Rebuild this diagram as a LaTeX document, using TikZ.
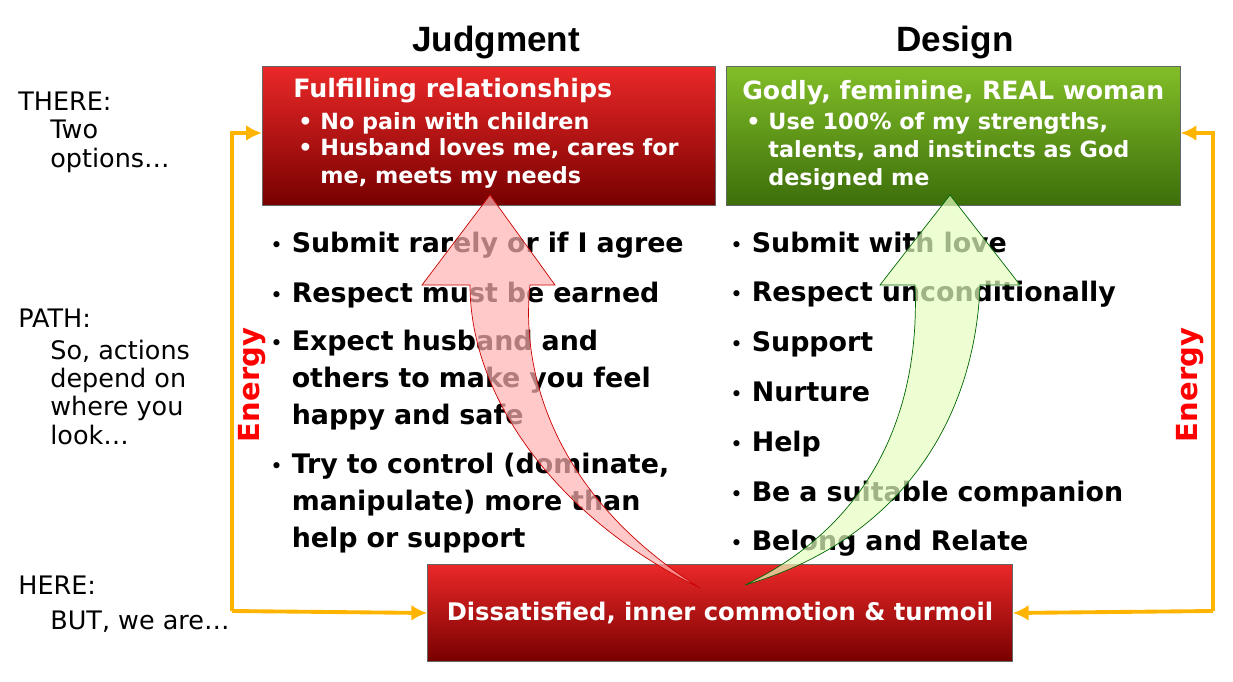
\documentclass[tikz,border=0pt]{standalone}
\usepackage{fontspec}
\setmainfont{DejaVu Sans}
\newfontfamily\titlefont{Liberation Sans}
\usepackage{xcolor}
\definecolor{BoxRedTop}{RGB}{235, 40, 40}
\definecolor{BoxRedBot}{RGB}{120, 0, 0}
\definecolor{BoxGreenTop}{RGB}{130, 190, 40}
\definecolor{BoxGreenBot}{RGB}{60, 110, 10}
\definecolor{EnergyOrange}{RGB}{255, 180, 0}
\usetikzlibrary{arrows.meta,positioning,calc}
\newcommand{\bul}{{\normalfont\fontsize{12}{12}\selectfont\textbullet}\ }
\newcommand{\ind}{\phantom{\bul}}

\begin{document}
\begin{tikzpicture} [ % styles
            x=0.02cm, y=-0.02cm, font=\fontsize{13.5}{16}\selectfont,
            redbox/.style = {rectangle, draw=black!60, top color=BoxRedTop, bottom color=BoxRedBot, text=white, anchor=north west, inner sep=0pt},
            greenbox/.style = {rectangle, draw=black!60, top color=BoxGreenTop, bottom color=BoxGreenBot, text=white, anchor=north west, inner sep=0pt},
            item/.style = {anchor=west, align=left, inner sep=0pt, text width=10cm, text height=11pt, text depth=3pt, font=\bfseries\fontsize{15.3}{21}\selectfont},
            side/.style = {anchor=west, align=left, inner sep=0pt, font=\fontsize{14.5}{16}\selectfont},
            energy/.style = {draw=EnergyOrange, line width=2.2pt, -{Latex[length=9pt,width=9pt]}},
            energytext/.style = {text=red, font=\bfseries\fontsize{16.5}{18}\selectfont, rotate=90}
        ]
        \useasboundingbox (0,0) rectangle (1233,682);

        % titles
        \node [font=\titlefont\bfseries\fontsize{20}{24}\selectfont] (tj) at (496,42) {Judgment};
        \node [font=\titlefont\bfseries\fontsize{20}{24}\selectfont] (td) at (955,42) {Design};

        % boxes
        \node [redbox, minimum width=9.06cm, minimum height=2.78cm] (judge) at (262,66) {};
        \node [greenbox, minimum width=9.08cm, minimum height=2.78cm] (design) at (726,66) {};
        \node [redbox, minimum width=11.7cm, minimum height=1.94cm, anchor=center, font=\bfseries\fontsize{13.8}{16}\selectfont] (here) at (720,613) {Dissatisfied, inner commotion \& turmoil};

        % box texts
        \node [anchor=west, inner sep=0pt, text=white, font=\bfseries\fontsize{14.4}{16}\selectfont] (jh) at (293,91) {Fulfilling relationships};
        \node [anchor=north west, inner sep=0pt, text=white, align=left, font=\bfseries\fontsize{12.7}{16}\selectfont] (jl) at (298,112) {\textbullet\ No pain with children\\[-1pt]\textbullet\ Husband loves me, cares for\\\phantom{\textbullet\ }me, meets my needs};
        \node [anchor=west, inner sep=0pt, text=white, font=\bfseries\fontsize{14.3}{16}\selectfont] (dh) at (742,93) {Godly, feminine, REAL woman};
        \node [anchor=north west, inner sep=0pt, text=white, align=left, font=\bfseries\fontsize{12.7}{16}\selectfont] (dl) at (746,112) {\textbullet\ Use 100\% of my strengths,\\\phantom{\textbullet\ }talents, and instincts as God\\\phantom{\textbullet\ }designed me};

        % side labels
        \node [side] (there) at (18,101) {THERE:};
        \node [side, anchor=north west] (there2) at (50,120) {Two\\options…};
        \node [side] (path) at (18,318) {PATH:};
        \node [side, anchor=north west] (path2) at (50,340) {So, actions\\depend on\\where you\\look…};
        \node [side] (herel) at (18,585) {HERE:};
        \node [side] (herel2) at (50,622) {BUT, we are…};

        % lists
        \node [item] (l1) at (270,245) {\bul Submit rarely or if I agree};
        \node [item] (l2) at (270,295) {\bul Respect must be earned};
        \node [item, anchor=north west, text height=, text depth=] (l3) at (270,330) {\bul Expect husband and\\\ind others to make you feel\\\ind happy and safe};
        \node [item, anchor=north west, text height=, text depth=] (l4) at (270,453) {\bul Try to control (dominate,\\\ind manipulate) more than\\\ind help or support};
        \foreach \t [count=\i] in {Submit with love, Respect unconditionally, Support, Nurture, Help, Be a suitable companion, Belong and Relate}
            \node [item] (r\i) at (730,{245+(\i-1)*49.8}) {\bul \t};

        % curved arrows
        \fill [red!30, fill opacity=0.7, draw=red!80!black]
            (700,588) .. controls (560,500) and (520,380) .. (530,285)
            -- (555,285) -- (490,195) -- (422,285) -- (470,285)
            .. controls (470,400) and (560,520) .. (700,588) -- cycle;
        \fill [green!40!yellow!25, fill opacity=0.7, draw=green!40!black]
            (745,585) .. controls (880,520) and (920,400) .. (915,285)
            -- (880,285) -- (950,195) -- (1020,285) -- (980,285)
            .. controls (975,420) and (900,540) .. (745,585) -- cycle;

        % energy loops
        \coordinate (lb) at (232,611);
        \coordinate (lt) at (232,133);
        \coordinate (rb) at (1213,611);
        \coordinate (rt) at (1213,133);
        \draw [energy] (lb) -- (here.west);
        \draw [energy] (lb) -- (lt) -- (judge.west |- lt);
        \draw [energy] (rb) -- (here.east);
        \draw [energy] (rb) -- (rt) -- (design.east |- rt);
        \node [energytext] (el) at (252,385) {Energy};
        \node [energytext] (er) at (1190,385) {Energy};

    \end{tikzpicture}
\end{document}
